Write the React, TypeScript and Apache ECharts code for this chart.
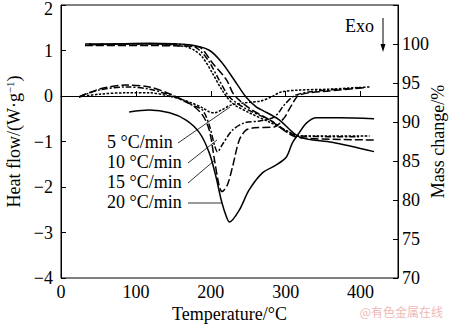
import React, { useEffect, useRef } from 'react';
import * as echarts from 'echarts';

// Temperature (°C) and heat flow (W/g) for DSC curves
const dsc5T = [24, 51, 87, 118, 149, 171, 189, 198, 205, 214, 227, 245, 267, 281, 294, 318, 358, 412];
const dsc5V = [-0.02, 0.04, 0.07, 0.07, -0.02, -0.13, -0.26, -0.35, -0.37, -0.31, -0.2, -0.15, -0.11, -0.02, 0.09, 0.13, 0.15, 0.2];
const dsc10T = [24, 51, 87, 118, 149, 175, 189, 198, 205, 209, 215, 229, 245, 265, 285, 298, 311, 331, 398];
const dsc10V = [-0.02, 0.13, 0.2, 0.15, 0, -0.2, -0.31, -0.64, -1.08, -1.23, -1.08, -0.75, -0.59, -0.55, -0.46, -0.2, 0, 0.09, 0.18];
const dsc15T = [24, 51, 87, 118, 149, 175, 189, 198, 205, 211, 215, 222, 229, 238, 247, 258, 285, 298, 308, 318, 358, 405];
const dsc15V = [-0.02, 0.15, 0.24, 0.2, 0.02, -0.2, -0.42, -0.75, -1.41, -1.96, -2.1, -1.96, -1.56, -0.97, -0.75, -0.7, -0.68, -0.48, -0.2, 0.02, 0.11, 0.18];
const dsc20T = [91, 118, 145, 167, 185, 198, 207, 214, 221, 225, 238, 251, 269, 287, 301, 309, 318, 328, 341, 372, 418];
const dsc20V = [-0.35, -0.31, -0.37, -0.53, -0.81, -1.25, -1.78, -2.29, -2.66, -2.77, -2.51, -2.07, -1.69, -1.52, -1.34, -1.03, -0.81, -0.59, -0.48, -0.48, -0.5];

// Temperature (°C) and mass (%) for TG curves
const tg5T = [32, 118, 165, 178, 189, 202, 215, 229, 251, 278, 305, 318, 358, 412];
const tg5M = [100, 100, 99.7, 99.2, 98.3, 96.3, 94.1, 92.4, 91.2, 90.0, 88.7, 88.2, 88.2, 88.2];
const tg10T = [35, 120, 171, 185, 198, 211, 225, 245, 278, 318, 398];
const tg10M = [100, 100, 99.9, 99.2, 97.7, 95.4, 93.2, 91.8, 90.3, 88.2, 88.1];
const tg15T = [32, 120, 175, 185, 202, 221, 231, 251, 278, 318, 420];
const tg15M = [99.8, 99.8, 99.7, 99.6, 97.6, 95.4, 93.5, 91.8, 90.3, 88.0, 87.7];
const tg20T = [38, 118, 171, 198, 215, 234, 247, 261, 269, 291, 318, 362, 418];
const tg20M = [99.9, 100.1, 99.9, 99.2, 97.6, 95.0, 93.2, 91.9, 91.5, 90.3, 88.1, 87.4, 86.2];

const rateLabels = ['5 °C/min', '10 °C/min', '15 °C/min', '20 °C/min'];

const zip = (a: number[], b: number[]) => a.map((x, i) => [x, b[i]]);
const FONT = '"Liberation Serif", "Times New Roman", serif';

const styles = [
  { type: [2.5, 1.5], width: 1.5 },
  { type: [6, 2, 2, 2], width: 1.5 },
  { type: [8, 3], width: 1.5 },
  { type: 'solid', width: 1.5 },
];

export default function App() {
  const ref = useRef<HTMLDivElement>(null);
  useEffect(() => {
    document.body.style.margin = '0';
    const chart = echarts.init(ref.current!, null, { renderer: 'svg' });
    const dsc = [zip(dsc5T, dsc5V), zip(dsc10T, dsc10V), zip(dsc15T, dsc15V), zip(dsc20T, dsc20V)];
    const tg = [zip(tg5T, tg5M), zip(tg10T, tg10M), zip(tg15T, tg15M), zip(tg20T, tg20M)];
    const series: any[] = [];
    dsc.forEach((d, i) => series.push({
      type: 'line', name: 'DSC ' + rateLabels[i], data: d, yAxisIndex: 0, showSymbol: false, smooth: 0.3,
      lineStyle: { color: '#000', width: styles[i].width, type: styles[i].type as any },
    }));
    tg.forEach((d, i) => series.push({
      type: 'line', name: 'TG ' + rateLabels[i], data: d, yAxisIndex: 1, showSymbol: false, smooth: 0.3,
      lineStyle: { color: '#000', width: styles[i].width, type: styles[i].type as any },
    }));
    const labelFont = '18px ' + FONT;
    const labelY = [143, 163, 183, 203];
    const leaderEnd = [[230, 107], [217, 140], [215, 160], [222, 203]];
    const labelEndX = [178, 188, 188, 188];
    const graphic: any[] = [];
    rateLabels.forEach((t, i) => {
      graphic.push({ type: 'text', left: 107, top: labelY[i] - 10, style: { text: t, font: labelFont, fill: '#000' } });
      graphic.push({ type: 'line', shape: { x1: labelEndX[i], y1: labelY[i], x2: leaderEnd[i][0], y2: leaderEnd[i][1] }, style: { stroke: '#000', lineWidth: 0.8 } });
    });
    graphic.push({ type: 'text', left: 345, top: 17, style: { text: 'Exo', font: labelFont, fill: '#000' } });
    graphic.push({ type: 'line', shape: { x1: 383, y1: 18, x2: 383, y2: 46 }, style: { stroke: '#000', lineWidth: 1 } });
    graphic.push({ type: 'polygon', shape: { points: [[380.5, 44], [385.5, 44], [383, 52]] }, style: { fill: '#000' } });
    graphic.push({ type: 'text', right: 7, top: 305, style: { text: '@有色金属在线', font: '12px "Noto Sans CJK SC"', fill: '#f0b8b8' } });

    const minus = (v: number) => (v === 2 ? '{t|2}' : String(v).replace('-', '−'));
    chart.setOption({
      animation: false,
      grid: { left: 61, right: 52, top: 5, bottom: 46, show: true, borderColor: '#000', borderWidth: 1, containLabel: false, outerBoundsMode: 'none' },
      xAxis: {
        type: 'value', min: 0, max: 450, interval: 100,
        name: 'Temperature/°C', nameLocation: 'middle', nameGap: 27, nameMoveOverlap: false,
        nameTextStyle: { fontFamily: FONT, fontSize: 18, color: '#000' },
        axisLine: { lineStyle: { color: '#000' } },
        axisTick: { inside: true, length: 5, lineStyle: { color: '#000' } },
        axisLabel: { fontFamily: FONT, fontSize: 18, color: '#000', margin: 5, showMaxLabel: false,
          formatter: (v: number) => (v > 400 ? '' : String(v)) },
        splitLine: { show: false },
      },
      yAxis: [
        {
          type: 'value', min: -4, max: 2, interval: 1, position: 'left',
          name: '{a|Heat flow/(W·g}{b|−1}{a|)}', nameLocation: 'middle', nameGap: 38, nameRotate: 90, nameMoveOverlap: false,
          nameTextStyle: { color: '#000', rich: { a: { fontFamily: FONT, fontSize: 18, color: '#000' }, b: { fontFamily: FONT, fontSize: 11, color: '#000', verticalAlign: 'top', padding: [0, 0, 8, 0] } } },
          axisLine: { show: true, lineStyle: { color: '#000' } },
          axisTick: { inside: true, length: 5, lineStyle: { color: '#000' } },
          axisLabel: { fontFamily: FONT, fontSize: 18, color: '#000', margin: 8, formatter: minus,
            rich: { t: { fontFamily: FONT, fontSize: 18, color: '#000', padding: [8, 0, 0, 0] } } },
          splitLine: { show: false },
        },
        {
          type: 'value', min: 70, max: 105, interval: 5, position: 'right',
          name: 'Mass change/%', nameLocation: 'middle', nameGap: 31, nameRotate: 90, nameMoveOverlap: false,
          nameTextStyle: { fontFamily: FONT, fontSize: 18, color: '#000' },
          axisLine: { show: true, lineStyle: { color: '#000' } },
          axisTick: { inside: true, length: 5, lineStyle: { color: '#000' } },
          axisLabel: { fontFamily: FONT, fontSize: 18, color: '#000', margin: 4,
            formatter: (v: number) => (v > 100 ? '' : String(v)) },
          splitLine: { show: false },
        },
      ],
      graphic,
      series,
    });
    return () => chart.dispose();
  }, []);
  return <div ref={ref} style={{ width: 450, height: 324 }} />;
}
